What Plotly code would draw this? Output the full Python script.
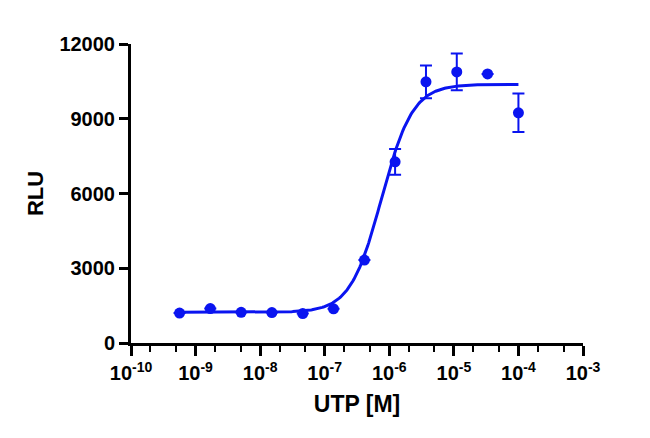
import numpy as np
import plotly.graph_objects as go

# UTP concentrations (M), 3-fold dilution from 1e-4
conc = [5.65e-10, 1.69e-9, 5.08e-9, 1.52e-8, 4.57e-8, 1.37e-7,
        4.12e-7, 1.23e-6, 3.70e-6, 1.11e-5, 3.33e-5, 1.0e-4]
rlu = [1200, 1380, 1230, 1220, 1180, 1370, 3330, 7270, 10480, 10880, 10800, 9240]
err = [0, 0, 0, 0, 0, 0, 0, 520, 660, 740, 0, 770]

# 4-parameter logistic fit parameters
fit_bottom = 1230
fit_top = 10380
fit_logec50 = -6.12
fit_hill = 1.8
fit_logx_start = -9.25
fit_logx_end = -4.0

x_tickvals = [1e-10, 1e-9, 1e-8, 1e-7, 1e-6, 1e-5, 1e-4, 1e-3]
x_ticktext = ["10<sup>-10</sup>", "10<sup>-9</sup>", "10<sup>-8</sup>", "10<sup>-7</sup>",
              "10<sup>-6</sup>", "10<sup>-5</sup>", "10<sup>-4</sup>", "10<sup>-3</sup>"]
y_tickvals = [0, 3000, 6000, 9000, 12000]

blue = "#0a14f0"
fam = "Liberation Sans, Arial"

lx = np.linspace(fit_logx_start, fit_logx_end, 300)
fy = fit_bottom + (fit_top - fit_bottom) / (1 + 10 ** ((fit_logec50 - lx) * fit_hill))

fig = go.Figure()
fig.add_trace(go.Scatter(x=10 ** lx, y=fy, mode="lines",
                         line=dict(color=blue, width=3), hoverinfo="skip"))
fig.add_trace(go.Scatter(x=conc, y=rlu, mode="markers",
                         marker=dict(color=blue, size=11, symbol="circle"),
                         error_y=dict(type="data", array=err, visible=True,
                                      color=blue, thickness=2, width=6)))

fig.update_layout(
    width=650, height=438,
    margin=dict(l=123, r=75, t=36, b=103),
    paper_bgcolor="white", plot_bgcolor="white",
    showlegend=False,
    font=dict(family=fam, color="black"),
    xaxis=dict(
        type="log", range=[-10, -3],
        tickvals=x_tickvals, ticktext=x_ticktext,
        tickfont=dict(size=20, weight="bold", family=fam, color="black"),
        ticks="outside", ticklen=10, tickwidth=2.5, tickcolor="black",
        minor=dict(ticks="outside", ticklen=6, tickwidth=2, tickcolor="black", showgrid=False),
        showline=True, linecolor="black", linewidth=3,
        showgrid=False, zeroline=False,
        title=dict(text="UTP [M]", font=dict(size=23, weight="bold", family=fam, color="black"), standoff=13),
    ),
    yaxis=dict(
        range=[0, 12000],
        tickvals=y_tickvals, ticktext=[str(v) for v in y_tickvals],
        tickfont=dict(size=20, weight="bold", family=fam, color="black"),
        ticks="outside", ticklen=9, tickwidth=2.5, tickcolor="black",
        showline=True, linecolor="black", linewidth=3,
        showgrid=False, zeroline=False,
        title=dict(text="RLU", font=dict(size=22, weight="bold", family=fam, color="black"), standoff=10),
    ),
)

fig.write_html("out.html")
